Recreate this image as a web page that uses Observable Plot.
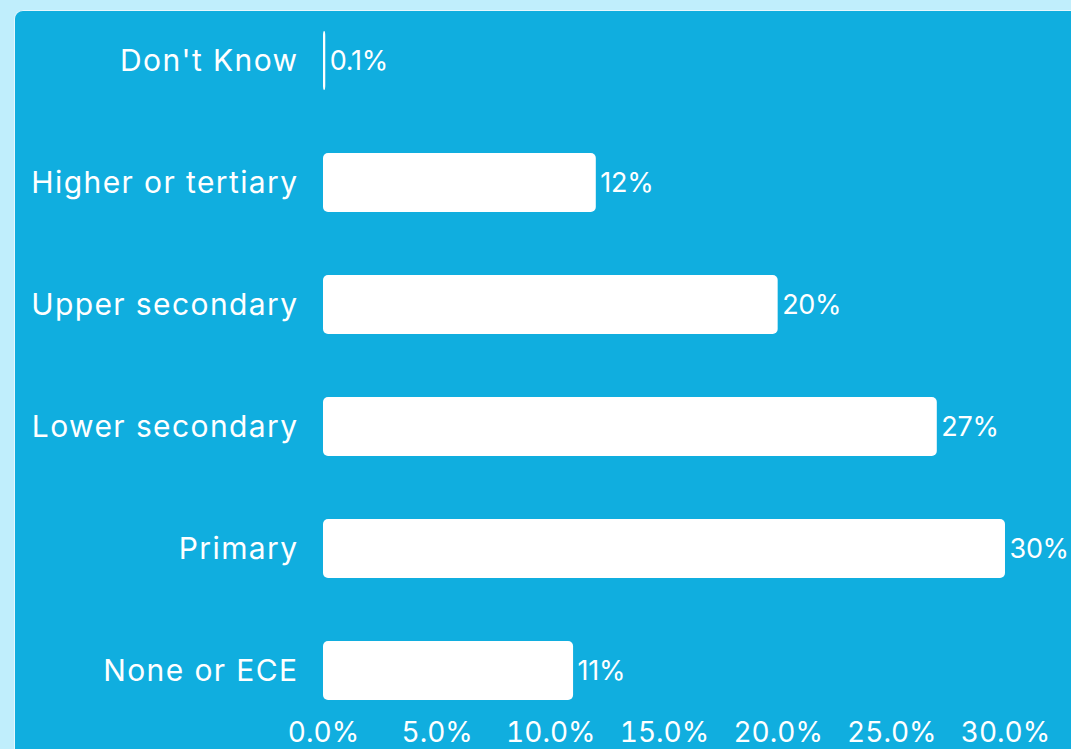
<!DOCTYPE html>
<html>
<head>
<meta charset="utf-8">
<script src="https://cdn.jsdelivr.net/npm/d3@7"></script>
<script src="https://cdn.jsdelivr.net/npm/@observablehq/plot@0.6"></script>
<style>
  html, body { margin: 0; padding: 0; }
  body { width: 1071px; height: 749px; background: #c0eefc; position: relative; overflow: hidden; font-family: Inter, "Open Sans", sans-serif; }
  #panel { position: absolute; left: 14px; top: 10px; width: 1071px; height: 760px; background: #10aedf; border-top: 1.5px solid #e6f8fe; border-left: 1.5px solid #e6f8fe; border-top-left-radius: 9px; }
  #chart { position: absolute; left: 0; top: 0; }
  #chart g[aria-label="y-axis tick label"] text { letter-spacing: 1.4px; }
  #chart g[aria-label="text"] text { letter-spacing: -0.3px; }
</style>
</head>
<body>
<div id="panel"></div>
<div id="chart"></div>
<script>
const categories = ["Don't Know", "Higher or tertiary", "Upper secondary", "Lower secondary", "Primary", "None or ECE"];
const values = [0.1, 12, 20, 27, 30, 11];
const valueLabels = ["0.1%", "12%", "20%", "27%", "30%", "11%"];
const xTicks = [0, 5, 10, 15, 20, 25, 30];

const data = categories.map((c, i) => ({category: c, value: values[i], label: valueLabels[i]}));

const chart = Plot.plot({
  width: 1071,
  height: 749,
  marginLeft: 323,
  marginRight: 66,
  marginTop: 31,
  marginBottom: 49,
  style: {background: "transparent", color: "white", fontFamily: "Inter, 'Open Sans', sans-serif", fontSize: "28px"},
  x: {domain: [0, 30], ticks: xTicks, tickFormat: d => d.toFixed(1) + "%", label: null},
  y: {domain: categories, paddingInner: 0.52, paddingOuter: 0, label: null},
  marks: [
    Plot.barX(data, {x: "value", y: "category", fill: "white", rx: 5}),
    Plot.text(data, {x: "value", y: "category", text: "label", textAnchor: "start", dx: 4, fill: "white", fontSize: 27}),
    Plot.axisX({ticks: xTicks, tickFormat: d => d.toFixed(1) + "%", tickSize: 0, tickPadding: 22, fontSize: 28, label: null, fill: "white"}),
    Plot.axisY({tickSize: 0, tickPadding: 25, fontSize: 30, label: null, fill: "white"})
  ]
});
document.getElementById("chart").appendChild(chart);
</script>
</body>
</html>
